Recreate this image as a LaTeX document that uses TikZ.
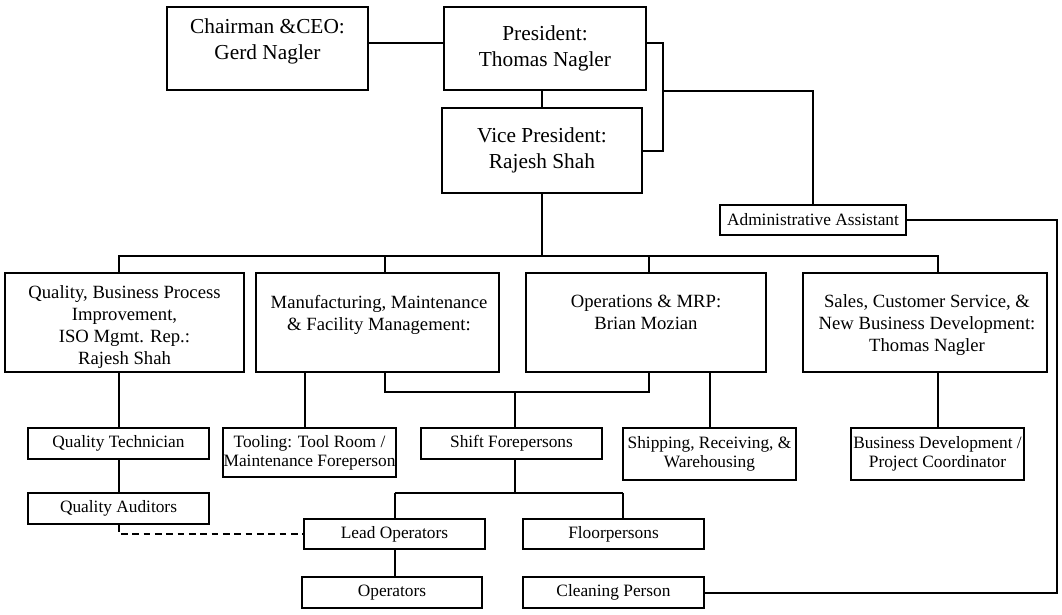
\documentclass[tikz,border=0pt]{standalone}
\usepackage{fontspec}
\setmainfont{Liberation Serif}
\begin{document}
\begin{tikzpicture}[x=0.75pt,y=-0.75pt,
  line width=1.5pt,
  boxbase/.style={draw=black, line width=1.5pt, inner sep=0pt, align=center, text=black},
  topbox/.style={boxbase, font=\fontsize{16}{19.5}\selectfont},
  midbox/.style={boxbase, font=\fontsize{14}{16.5}\selectfont},
  smallbox/.style={boxbase, font=\fontsize{13}{14.5}\selectfont},
  toptxt/.style={inner sep=0pt, align=center, anchor=north, font=\fontsize{16}{19.5}\selectfont},
  midtxt/.style={inner sep=0pt, align=center, anchor=north, font=\fontsize{14}{16.5}\selectfont},
  conn/.style={draw=black, line width=1.5pt}]
\useasboundingbox (0,0) rectangle (1062,614);

% top level
\node[topbox, minimum width=150.75pt, minimum height=62.25pt] (chair) at (267.5,48.5) {};
\node[toptxt] (chairtxt) at (267.5,18) {Chairman \&CEO:\\Gerd Nagler};
\node[topbox, minimum width=151.5pt, minimum height=62.25pt] (pres) at (545,48.5) {President:\\Thomas Nagler};
\node[topbox, minimum width=150pt, minimum height=63.75pt] (vp) at (542,150.5) {Vice President:\\Rajesh Shah};
\node[smallbox, minimum width=139.5pt, minimum height=22.5pt] (admin) at (813,220) {Administrative Assistant};

% level 2
\node[midbox, minimum width=179.25pt, minimum height=74.25pt] (qual) at (124.5,322.5) {};
\node[midtxt] (qualtxt) at (124.5,285) {Quality, Business Process\\Improvement,\\ISO Mgmt. Rep.:\\Rajesh Shah};
\node[midbox, minimum width=182.25pt, minimum height=74.25pt] (mfg) at (377.5,322.5) {};
\node[midtxt] (mfgtxt) at (379,294) {Manufacturing, Maintenance\\\& Facility Management:};
\node[midbox, minimum width=180pt, minimum height=74.25pt] (ops) at (646,322.5) {};
\node[midtxt] (opstxt) at (646,294) {Operations \& MRP:\\Brian Mozian};
\node[midbox, minimum width=183pt, minimum height=74.25pt] (sales) at (925,322.5) {};
\node[midtxt] (salestxt) at (927,294) {Sales, Customer Service, \&\\New Business Development:\\Thomas Nagler};

% level 3
\node[smallbox, minimum width=135.75pt, minimum height=23.25pt] (qt) at (118.5,443.5) {Quality Technician};
\node[smallbox, minimum width=135.75pt, minimum height=23.25pt] (qa) at (118.5,508.5) {Quality Auditors};
\node[smallbox, minimum width=129.75pt, minimum height=36.75pt] (tool) at (309.5,452.5) {Tooling: Tool Room /\\Maintenance Foreperson};
\node[smallbox, minimum width=135.75pt, minimum height=23.25pt] (shift) at (511.5,443.5) {Shift Forepersons};
\node[smallbox, minimum width=129.75pt, minimum height=39pt] (ship) at (709.5,454) {Shipping, Receiving, \&\\Warehousing};
\node[smallbox, minimum width=129.75pt, minimum height=39pt] (biz) at (937.5,454) {Business Development /\\Project Coordinator};

% level 4/5
\node[smallbox, minimum width=135.75pt, minimum height=22.5pt] (lead) at (394.5,534) {Lead Operators};
\node[smallbox, minimum width=135.75pt, minimum height=22.5pt] (floor) at (613.5,534) {Floorpersons};
\node[smallbox, minimum width=135pt, minimum height=23.25pt] (oper) at (392,592.5) {Operators};
\node[smallbox, minimum width=135.75pt, minimum height=23.25pt] (clean) at (613.5,592.5) {Cleaning Person};

% helper coordinates
\coordinate (ycp) at (0,43);
\coordinate (rj) at (663,43);
\coordinate (aj) at (663,91);
\coordinate (rr) at (1057,0);
\coordinate (bus) at (0,256);
\coordinate (mx) at (385,0);
\coordinate (ox) at (649,0);
\coordinate (yl) at (0,392);
\coordinate (sx) at (515,0);
\coordinate (tx) at (305,0);
\coordinate (ys) at (0,493);
\coordinate (fx) at (623,0);

% connectors
\draw[conn] (chair.east |- ycp) -- (pres.west |- ycp);
\draw[conn] (vp.north |- pres.south) -- (vp.north);
\draw[conn] (pres.east |- rj) -- (rj) -- (rj |- vp.east) -- (vp.east);
\draw[conn] (aj) -- (admin.north |- aj) -- (admin.north);
\draw[conn] (admin.east) -- (admin.east -| rr) -- (rr |- clean.east) -- (clean.east);
\draw[conn] (vp.south) -- (vp.south |- bus);
\draw[conn] (qt.north |- qual.north) -- (qt.north |- bus) -- (biz.north |- bus) -- (biz.north |- sales.north);
\draw[conn] (mx |- bus) -- (mx |- mfg.north);
\draw[conn] (ox |- bus) -- (ox |- ops.north);
\draw[conn] (mx |- mfg.south) -- (mx |- yl) -- (ox |- yl) -- (ox |- ops.south);
\draw[conn] (sx |- yl) -- (sx |- shift.north);
\draw[conn] (tx |- mfg.south) -- (tx |- tool.north);
\draw[conn] (ship.north |- ops.south) -- (ship.north);
\draw[conn] (biz.north |- sales.south) -- (biz.north);
\draw[conn] (qt.north |- qual.south) -- (qt.north);
\draw[conn] (qt.south) -- (qa.north);
\draw[conn] (sx |- shift.south) -- (sx |- ys);
\draw[conn] (lead.north |- ys) -- (fx |- ys);
\draw[conn] (lead.north |- ys) -- (lead.north);
\draw[conn] (fx |- ys) -- (fx |- floor.north);
\draw[conn] (lead.south) -- (lead.south |- oper.north);
\draw[conn, dash pattern=on 5pt off 3.5pt] (qa.south) |- (lead.west);
\end{tikzpicture}
\end{document}
